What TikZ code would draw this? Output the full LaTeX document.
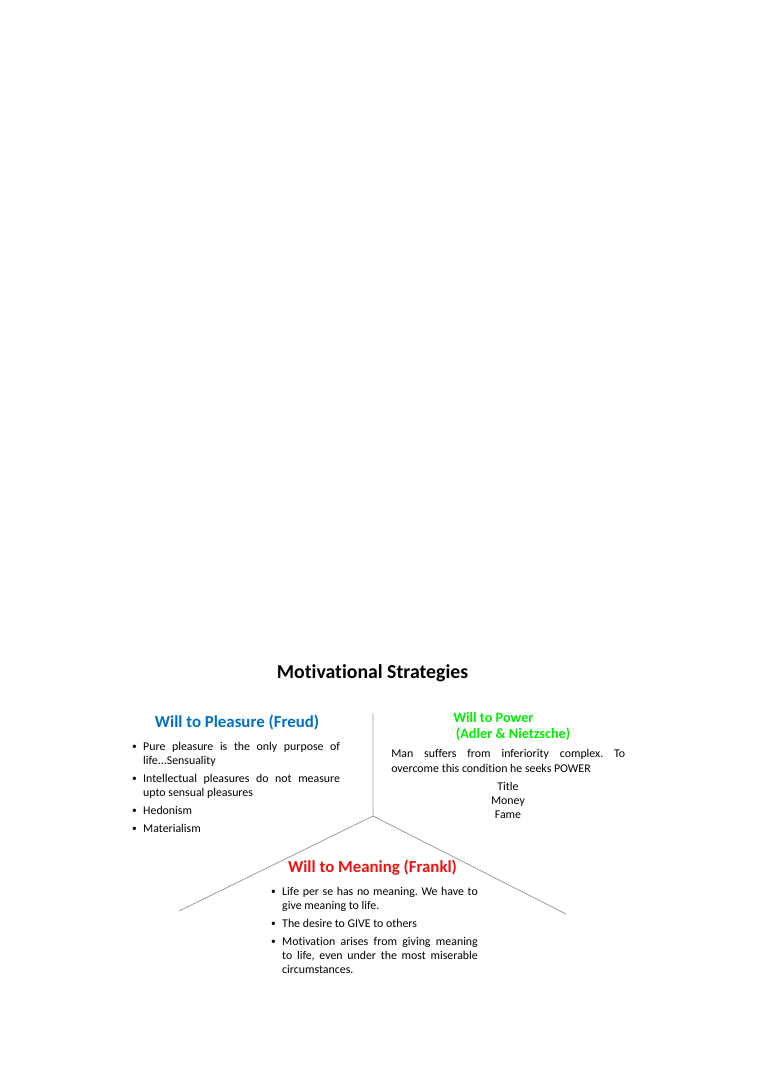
\documentclass[tikz,border=0pt]{standalone}
\usepackage{fontspec, enumitem}
\setmainfont{Carlito}[RawFeature={-liga}]
\frenchspacing
\newcommand\smallbullet{\raisebox{0.2ex}{\scalebox{0.8}{\textbullet}}}
\setlist[itemize]{label=\smallbullet, leftmargin=8.6pt, labelsep=5pt, topsep=0pt, partopsep=0pt, parsep=0pt, itemsep=3.1pt}
\definecolor{pleasureblue}{HTML}{0070C0}
\definecolor{powergreen}{HTML}{00EE00}
\definecolor{meaningred}{HTML}{EE1111}
\tikzset{x=0.7843pt, y=-0.7843pt}
\tikzset{head/.style={font=\fontsize{13.2}{15}\selectfont\bfseries, inner sep=0pt},
  body/.style={font=\fontsize{9.3}{11}\selectfont, inner sep=0pt, anchor=north west, align=justify},
  branch/.style={gray!80, line width=0.6pt}}

\begin{document}
\begin{tikzpicture}
\useasboundingbox (0,0) rectangle (759,1075);
\node[head, font=\fontsize{15.5}{18}\selectfont\bfseries] (title) at (372.5,673) {Motivational Strategies};
\coordinate (top) at (373,713);
\coordinate (hub) at (373,816);
\coordinate (lft) at (179,911);
\coordinate (rgt) at (566,914);
\draw[branch] (top) -- (hub) -- (lft);
\draw[branch] (hub) -- (rgt);
% pleasure
\node[head, pleasureblue] (pleasure) at (237,723) {Will to Pleasure (Freud)};
\node[body, text width=163pt] (pleasurelist) at (132,736.5) {\begin{itemize}
\item Pure pleasure is the only purpose of\linebreak life...Sensuality
\item Intellectual pleasures do not measure\linebreak upto sensual pleasures
\item Hedonism
\item Materialism
\end{itemize}};
% power
\node[head, powergreen, font=\fontsize{11.2}{12.5}\selectfont\bfseries, anchor=west, align=left] (power) at (453,727) {Will to Power\\\hspace*{2pt}(Adler \& Nietzsche)};
\node[body, text width=183.5pt] (powertext) at (391,749.5) {Man suffers from inferiority complex. To\linebreak overcome this condition he seeks POWER};
\node[body, anchor=north, align=center] (powerlist) at (508,782) {Title\\Money\\Fame};
% meaning
\node[head, meaningred] (meaning) at (372.5,868) {Will to Meaning (Frankl)};
\node[body, text width=162pt] (meaninglist) at (271,881.5) {\begin{itemize}
\item Life per se has no meaning. We have to\linebreak give meaning to life.
\item The desire to GIVE to others
\item Motivation arises from giving meaning\linebreak to life, even under the most miserable\linebreak circumstances.
\end{itemize}};
\end{tikzpicture}
\end{document}
